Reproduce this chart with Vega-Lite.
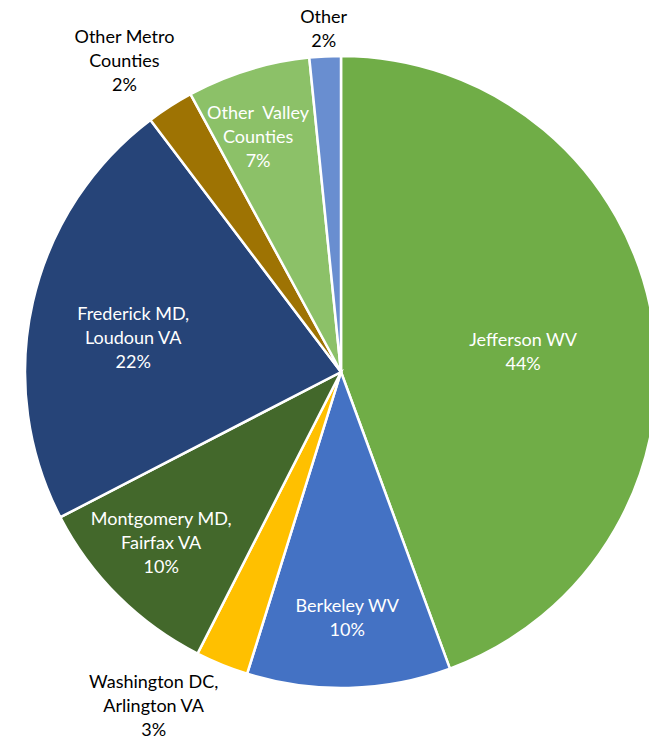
{
  "$schema": "https://vega.github.io/schema/vega-lite/v6.json",
  "width": 682,
  "height": 744,
  "autosize": "none",
  "padding": 0,
  "background": "white",
  "view": {"stroke": null},
  "config": {"text": {"font": "Lato", "fontSize": 18, "lineBreak": "\n", "lineHeight": 24, "align": "center", "baseline": "middle"}},
  "data": {
    "values": [
      {"category": "Jefferson WV", "value": 44.4, "order": 1, "label": "Jefferson WV\n44%"},
      {"category": "Berkeley WV", "value": 10.4, "order": 2, "label": "Berkeley WV\n10%"},
      {"category": "Washington DC, Arlington VA", "value": 2.7, "order": 3, "label": "Washington DC,\nArlington VA\n3%"},
      {"category": "Montgomery MD, Fairfax VA", "value": 9.9, "order": 4, "label": "Montgomery MD,\nFairfax VA\n10%"},
      {"category": "Frederick MD, Loudoun VA", "value": 22.3, "order": 5, "label": "Frederick MD,\nLoudoun VA\n22%"},
      {"category": "Other Metro Counties", "value": 2.4, "order": 6, "label": "Other Metro\nCounties\n2%"},
      {"category": "Other Valley Counties", "value": 6.3, "order": 7, "label": "Other \u00a0Valley\nCounties\n7%"},
      {"category": "Other", "value": 1.6, "order": 8, "label": "Other\n2%"}
    ]
  },
  "transform": [
    {"stack": "value", "groupby": [], "sort": [{"field": "order", "order": "ascending"}], "as": ["v0", "v1"]},
    {"calculate": "(datum.v0 + datum.v1) / 2", "as": "mid"}
  ],
  "layer": [
    {
      "mark": {"type": "arc", "outerRadius": 316, "stroke": "white", "strokeWidth": 2.5},
      "encoding": {
        "theta": {"field": "v0", "type": "quantitative", "scale": {"domain": [0, 100]}},
        "theta2": {"field": "v1"},
        "color": {
          "field": "category",
          "type": "nominal",
          "scale": {
            "domain": ["Jefferson WV", "Berkeley WV", "Washington DC, Arlington VA", "Montgomery MD, Fairfax VA", "Frederick MD, Loudoun VA", "Other Metro Counties", "Other Valley Counties", "Other"],
            "range": ["#70AD47", "#4472C4", "#FFC000", "#43682B", "#264478", "#9E7303", "#8CC168", "#698ED0"]
          },
          "legend": null
        }
      }
    },
    {
      "transform": [{"filter": "datum.category == 'Jefferson WV'"}],
      "mark": {"type": "text", "radius": 185, "dy": 1, "color": "white"},
      "encoding": {"theta": {"field": "mid", "type": "quantitative"}, "text": {"field": "label"}}
    },
    {
      "transform": [{"filter": "datum.category == 'Berkeley WV'"}],
      "mark": {"type": "text", "radius": 248, "dy": -13, "color": "white"},
      "encoding": {"theta": {"field": "mid", "type": "quantitative"}, "text": {"field": "label"}}
    },
    {
      "transform": [{"filter": "datum.category == 'Montgomery MD, Fairfax VA'"}],
      "mark": {"type": "text", "radius": 248, "dx": -5, "dy": -28, "color": "white"},
      "encoding": {"theta": {"field": "mid", "type": "quantitative"}, "text": {"field": "label"}}
    },
    {
      "transform": [{"filter": "datum.category == 'Other Valley Counties'"}],
      "mark": {"type": "text", "radius": 248, "dx": -10, "dy": -21, "color": "white"},
      "encoding": {"theta": {"field": "mid", "type": "quantitative"}, "text": {"field": "label"}}
    },
    {
      "transform": [{"filter": "datum.category == 'Frederick MD, Loudoun VA'"}],
      "mark": {"type": "text", "radius": 211, "dy": -10, "dx": -2, "color": "white"},
      "encoding": {"theta": {"field": "mid", "type": "quantitative"}, "text": {"field": "label"}}
    },
    {
      "transform": [{"filter": "datum.category == 'Other'"}],
      "mark": {"type": "text", "radius": 344, "dy": -10, "color": "black"},
      "encoding": {"theta": {"field": "mid", "type": "quantitative"}, "text": {"field": "label"}}
    },
    {
      "transform": [{"filter": "datum.category == 'Other Metro Counties'"}],
      "mark": {"type": "text", "radius": 378, "dx": -12, "dy": -16, "color": "black"},
      "encoding": {"theta": {"field": "mid", "type": "quantitative"}, "text": {"field": "label"}}
    },
    {
      "transform": [{"filter": "datum.category == 'Washington DC, Arlington VA'"}],
      "mark": {"type": "text", "radius": 383, "dx": -43, "dy": -44, "color": "black"},
      "encoding": {"theta": {"field": "mid", "type": "quantitative"}, "text": {"field": "label"}}
    }
  ]
}
